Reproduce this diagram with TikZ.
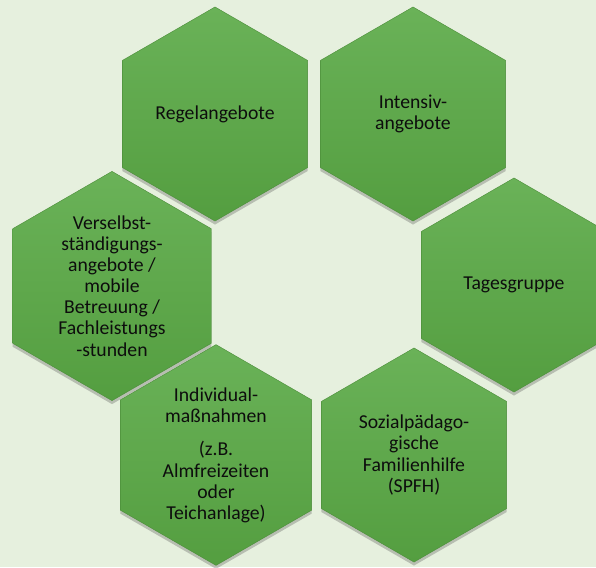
\documentclass[tikz,border=0pt]{standalone}
\usepackage{fontspec}
\setmainfont{Carlito}
\usetikzlibrary{shapes.geometric,shadows}

\definecolor{bgcol}{RGB}{230,240,222}
\definecolor{hextop}{RGB}{106,178,88}
\definecolor{hexbot}{RGB}{84,158,64}

\tikzset{
  hexa/.style={regular polygon, regular polygon sides=6, regular polygon rotate=30,
    minimum size=5.35cm, inner sep=0pt, outer sep=0pt,
    top color=hextop, bottom color=hexbot, draw=hexbot!90!black, line width=0.3pt,
    drop shadow={shadow xshift=0pt, shadow yshift=-2.5pt, opacity=0.3, fill=black!70},
    align=center, font=\fontsize{14}{15}\selectfont, text=black!95}
}

\begin{document}
\begin{tikzpicture}[x=0.025cm, y=-0.025cm]

% background:
\path[use as bounding box, fill=bgcol] (0,0) rectangle (596,567);

% ring of offers:
\node[hexa] (regel) at (215,114) {Regelangebote};
\node[hexa] (intensiv) at (413,114) {Intensiv-\\angebote};
\node[hexa] (tages) at (514,285) {Tagesgruppe};
\node[hexa] (spfh) at (414,455) {Sozialpädago-\\gische\\Familienhilfe\\(SPFH)};
\node[hexa] (indiv) at (216,455) {Individual-\\maßnahmen\\[9pt](z.B.\\Almfreizeiten\\oder\\Teichanlage)};
\node[hexa] (verselbst) at (112,286) {Verselbst-\\ständigungs-\\angebote /\\mobile\\Betreuung /\\Fachleistungs\\-stunden};

\end{tikzpicture}
\end{document}
